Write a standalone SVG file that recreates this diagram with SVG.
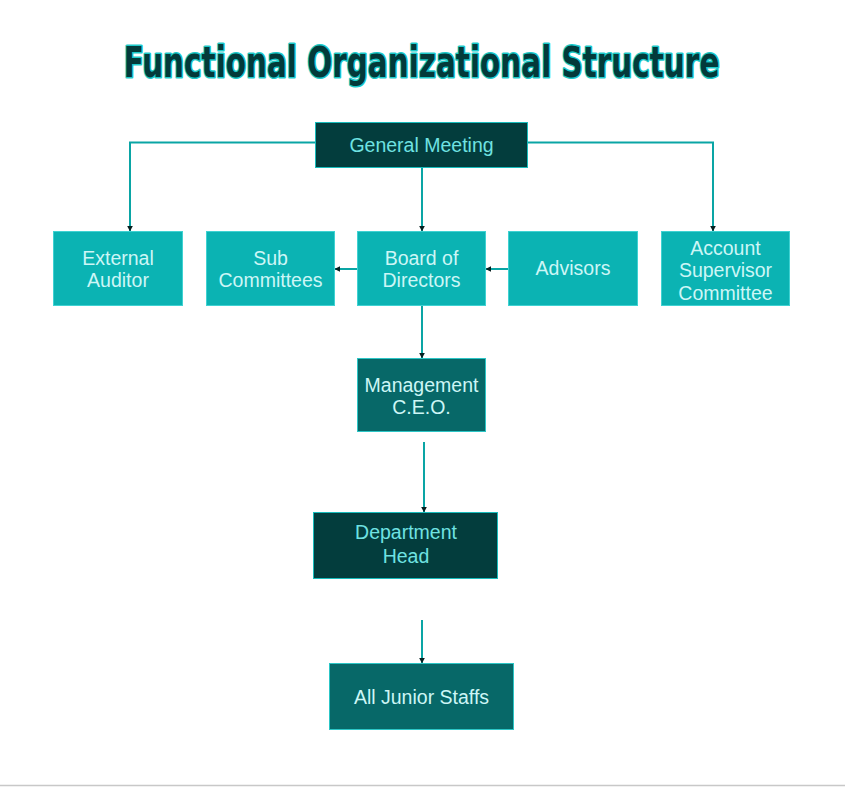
<svg xmlns="http://www.w3.org/2000/svg" width="845" height="787" viewBox="0 0 845 787">
<defs>
<marker id="ah" viewBox="0 0 10 10" refX="9" refY="5" markerWidth="6" markerHeight="6" markerUnits="userSpaceOnUse" orient="auto">
<path d="M0,0 L10,5 L0,10 Z" fill="#062020"/>
</marker>
</defs>
<style>
.ca{fill:none;stroke:#0aa5a5;stroke-width:2;marker-end:url(#ah)}
.light{fill:#0bb3b3;stroke:#3fd2d2;stroke-width:1}
.dark{fill:#033d3d;stroke:#17bcbc;stroke-width:1}
.mid{fill:#076868;stroke:#2cc6c6;stroke-width:1}
.t{font-family:"Liberation Sans",Arial,sans-serif;font-size:19.5px;text-anchor:middle;fill:#cdf6f6}
.td{font-family:"Liberation Sans",Arial,sans-serif;font-size:19.5px;text-anchor:middle;fill:#6fe2e2}
.title{font-family:"DejaVu Sans Condensed","DejaVu Sans",sans-serif;font-weight:bold;font-size:42px;fill:#033a3a;stroke:#1ccaca;stroke-width:3;paint-order:stroke;stroke-linejoin:round}
</style>
<rect width="845" height="787" fill="#ffffff"/>
<line x1="0" y1="785.5" x2="845" y2="785.5" stroke="#c8c8c8" stroke-width="1.5"/>
<g transform="translate(421.5,77) scale(0.78,1)">
<text class="title" x="0" y="0" text-anchor="middle">Functional Organizational Structure</text>
</g>
<g id="connectors">
<path class="ca" d="M315,142.5 H130 V231"/>
<path class="ca" d="M528,142.5 H713 V231"/>
<path class="ca" d="M422,168 V231"/>
<path class="ca" d="M357,269 H335"/>
<path class="ca" d="M508,269 H486"/>
<path class="ca" d="M422,306 V358"/>
<path class="ca" d="M424,442 V512"/>
<path class="ca" d="M422,620 V663"/>
</g>
<g id="general-meeting">
<rect class="dark" x="315.5" y="122.5" width="212" height="45"/>
<text class="td" x="421.5" y="151.5">General Meeting</text>
</g>
<g id="external-auditor">
<rect class="light" x="53.5" y="231.5" width="129" height="74"/>
<text class="t" x="118" y="264.5">External</text>
<text class="t" x="118" y="286.5">Auditor</text>
</g>
<g id="sub-committees">
<rect class="light" x="206.5" y="231.5" width="128" height="74"/>
<text class="t" x="270.5" y="264.5">Sub</text>
<text class="t" x="270.5" y="286.5">Committees</text>
</g>
<g id="board-of-directors">
<rect class="light" x="357.5" y="231.5" width="128" height="74"/>
<text class="t" x="421.5" y="264.5">Board of</text>
<text class="t" x="421.5" y="286.5">Directors</text>
</g>
<g id="advisors">
<rect class="light" x="508.5" y="231.5" width="129" height="74"/>
<text class="t" x="573" y="275">Advisors</text>
</g>
<g id="account-supervisor-committee">
<rect class="light" x="661.5" y="231.5" width="128" height="74"/>
<text class="t" x="725.5" y="254.5">Account</text>
<text class="t" x="725.5" y="277">Supervisor</text>
<text class="t" x="725.5" y="300">Committee</text>
</g>
<g id="management-ceo">
<rect class="mid" x="357.5" y="358.5" width="128" height="73"/>
<text class="t" x="421.5" y="391.5">Management</text>
<text class="t" x="421.5" y="413.5">C.E.O.</text>
</g>
<g id="department-head">
<rect class="dark" x="313.5" y="512.5" width="184" height="66"/>
<text class="td" x="406" y="539">Department</text>
<text class="td" x="406" y="562.5">Head</text>
</g>
<g id="all-junior-staffs">
<rect class="mid" x="329.5" y="663.5" width="184" height="66"/>
<text class="t" x="421.5" y="703.5">All Junior Staffs</text>
</g>
</svg>
